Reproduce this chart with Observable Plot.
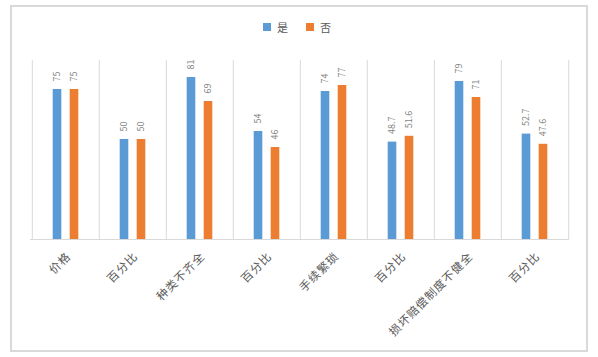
<!DOCTYPE html>
<html>
<head>
<meta charset="utf-8">
<script src="https://cdn.jsdelivr.net/npm/d3@7"></script>
<script src="https://cdn.jsdelivr.net/npm/@observablehq/plot@0.6"></script>
<style>
  html, body { margin: 0; padding: 0; background: #fff; }
  #wrap { position: relative; width: 598px; height: 357px; overflow: hidden; font-family: "Noto Sans CJK SC", "Noto Sans", sans-serif; }
  #frame { position: absolute; left: 10px; top: 5px; width: 574px; height: 343px; border: 2px solid #d9d9d9; box-sizing: content-box; }
  #legend { position: absolute; top: 19px; left: 263px; display: flex; align-items: center; font-size: 11px; color: #595959; }
  #legend .sw { width: 8px; height: 8px; display: inline-block; margin-right: 6px; }
  #legend .item { display: flex; align-items: center; margin-right: 18px; }
  #chart { position: absolute; left: 0; top: 0; }
  #chart text[transform*="rotate(-45"] { letter-spacing: 1px; }
</style>
</head>
<body>
<div id="wrap">
  <div id="frame"></div>
  <div id="chart"></div>
  <div id="legend"></div>
</div>
<script>
const categories = ["价格", "百分比", "种类不齐全", "百分比", "手续繁琐", "百分比", "损坏赔偿制度不健全", "百分比"];
const seriesNames = ["是", "否"];
const seriesColors = ["#5b9bd5", "#ed7d31"];
const yesValues = [75, 50, 81, 54, 74, 48.7, 79, 52.7];
const noValues = [75, 50, 69, 46, 77, 51.6, 71, 47.6];

const idx = categories.map((_, i) => i);
const yesData = idx.map(i => ({i, v: yesValues[i]}));
const noData = idx.map(i => ({i, v: noValues[i]}));

const W = 598, H = 357, mL = 30, mR = 29;
const bw = (W - mL - mR) / categories.length;
const half = bw / 2;
const off = 8.5, barW = 9;
const inA = half - off - barW / 2;   // near-left inset for blue
const inB = half + off - barW / 2;   // far inset

const plot = Plot.plot({
  width: W,
  height: H,
  marginLeft: mL,
  marginRight: mR,
  marginTop: 60,
  marginBottom: 118,
  style: {background: "transparent", fontFamily: "'Noto Sans CJK SC', 'Noto Sans', sans-serif"},
  x: {type: "band", domain: idx, padding: 0, axis: null},
  y: {domain: [0, 89.5], axis: null},
  marks: [
    Plot.ruleX(idx, {x: d => d, y1: 0, y2: 89.5, dx: -half, stroke: "#d9d9d9", strokeWidth: 1}),
    Plot.ruleX([idx[idx.length - 1]], {x: d => d, y1: 0, y2: 89.5, dx: half, stroke: "#d9d9d9", strokeWidth: 1}),
    Plot.ruleY([0], {stroke: "#d9d9d9", strokeWidth: 1}),
    Plot.barY(yesData, {x: "i", y: "v", fill: seriesColors[0], insetLeft: inA, insetRight: inB}),
    Plot.barY(noData, {x: "i", y: "v", fill: seriesColors[1], insetLeft: inB, insetRight: inA}),
    Plot.text(yesData, {x: "i", y: "v", text: d => String(d.v), dx: -off, dy: -8, rotate: -90, textAnchor: "start", lineAnchor: "middle", fontSize: 9, fill: "#7f7f7f"}),
    Plot.text(noData, {x: "i", y: "v", text: d => String(d.v), dx: off, dy: -8, rotate: -90, textAnchor: "start", lineAnchor: "middle", fontSize: 9, fill: "#7f7f7f"}),
    Plot.text(idx, {x: d => d, y: () => 0, text: d => categories[d], dx: 3, dy: 15, rotate: -45, textAnchor: "end", lineAnchor: "middle", fontSize: 11.5, fill: "#595959"})
  ]
});
document.getElementById("chart").appendChild(plot);

const legend = document.getElementById("legend");
seriesNames.forEach((name, k) => {
  const item = document.createElement("span");
  item.className = "item";
  const sw = document.createElement("span");
  sw.className = "sw";
  sw.style.background = seriesColors[k];
  const t = document.createElement("span");
  t.textContent = name;
  item.appendChild(sw);
  item.appendChild(t);
  legend.appendChild(item);
});
</script>
</body>
</html>
